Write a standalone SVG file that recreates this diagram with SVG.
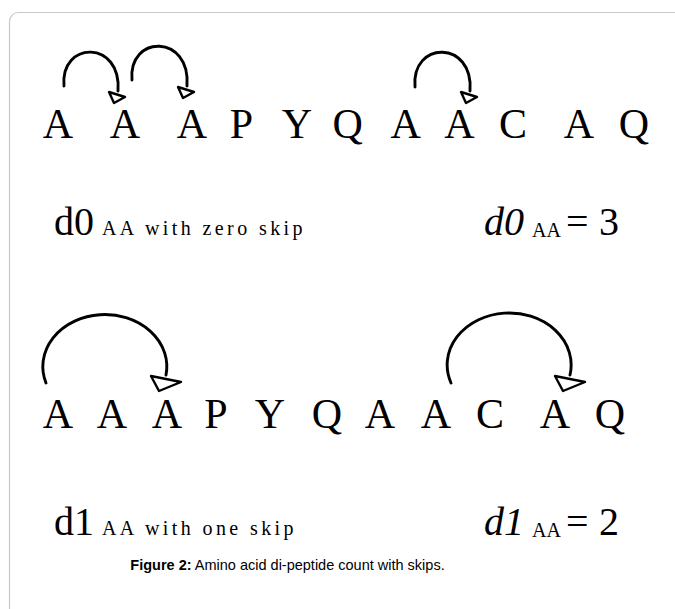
<svg xmlns="http://www.w3.org/2000/svg" width="675" height="609" viewBox="0 0 675 609">
<style>
.seq{font-family:"Liberation Serif","Times New Roman",serif;font-size:42px;fill:#000;text-anchor:middle}
.lbl{font-family:"Liberation Serif","Times New Roman",serif;font-size:40px;fill:#000}
.sub{font-family:"Liberation Serif","Times New Roman",serif;font-size:20px;fill:#000}
.arc{fill:none;stroke:#000;stroke-width:2.9;stroke-linecap:round}
.head{fill:#fff;stroke:#000;stroke-width:2.4;stroke-linejoin:round}
.cap{font-family:"Liberation Sans",Arial,sans-serif;font-size:14.5px;fill:#000;text-anchor:middle}
</style>
<defs>
<polygon id="h1" class="head" points="-9,0 7,5 -4,11"/>
<polygon id="h2" class="head" points="-15,0 15,6 -7,15"/>
</defs>
<rect x="9.5" y="12.5" width="700" height="640" rx="9" fill="#fff" stroke="#c8c8c8" stroke-width="1.2"/>
<g id="row1">
<text class="seq" x="58" y="138">A</text>
<text class="seq" x="125" y="138">A</text>
<text class="seq" x="192" y="138">A</text>
<text class="seq" x="241.5" y="138">P</text>
<text class="seq" x="297" y="138">Y</text>
<text class="seq" x="347.6" y="138">Q</text>
<text class="seq" x="405.7" y="138">A</text>
<text class="seq" x="459.5" y="138">A</text>
<text class="seq" x="513" y="138">C</text>
<text class="seq" x="579" y="138">A</text>
<text class="seq" x="634" y="138">Q</text>
</g>
<g id="row2">
<text class="seq" x="58" y="428">A</text>
<text class="seq" x="112" y="428">A</text>
<text class="seq" x="167" y="428">A</text>
<text class="seq" x="216" y="428">P</text>
<text class="seq" x="270" y="428">Y</text>
<text class="seq" x="327" y="428">Q</text>
<text class="seq" x="380" y="428">A</text>
<text class="seq" x="436" y="428">A</text>
<text class="seq" x="490" y="428">C</text>
<text class="seq" x="555" y="428">A</text>
<text class="seq" x="610" y="428">Q</text>
</g>
<g id="connectors">
<path class="arc" d="M64 86 C60 40 122 40 118 91"/>
<use href="#h1" x="118" y="92"/>
<path class="arc" d="M132 80 C128 34 191 34 187 86"/>
<use href="#h1" x="187" y="87"/>
<path class="arc" d="M415 87 C411 40 474 40 470 91"/>
<use href="#h1" x="470" y="92"/>
<path class="arc" d="M46 383 A62 52 0 1 1 166 375"/>
<use href="#h2" x="166" y="376"/>
<path class="arc" d="M451 383 A62 52 0 1 1 570 375"/>
<use href="#h2" x="570" y="376"/>
</g>
<g id="label-d0">
<text y="235"><tspan class="lbl" x="54">d0</tspan><tspan class="sub" x="102" letter-spacing="3.4">AA with zero skip</tspan></text>
</g>
<g id="count-d0">
<text y="235"><tspan class="lbl" x="484" font-style="italic">d0</tspan><tspan class="sub" x="532" dy="2">AA</tspan><tspan class="lbl" x="566" dy="-2">=</tspan><tspan class="lbl" x="599">3</tspan></text>
</g>
<g id="label-d1">
<text y="535"><tspan class="lbl" x="54">d1</tspan><tspan class="sub" x="102" letter-spacing="3.4">AA with one skip</tspan></text>
</g>
<g id="count-d1">
<text y="535"><tspan class="lbl" x="484" font-style="italic">d1</tspan><tspan class="sub" x="532" dy="2">AA</tspan><tspan class="lbl" x="566" dy="-2">=</tspan><tspan class="lbl" x="599">2</tspan></text>
</g>
<g id="caption">
<text class="cap" x="287.5" y="570"><tspan font-weight="bold">Figure 2:</tspan> Amino acid di-peptide count with skips.</text>
</g>
</svg>
